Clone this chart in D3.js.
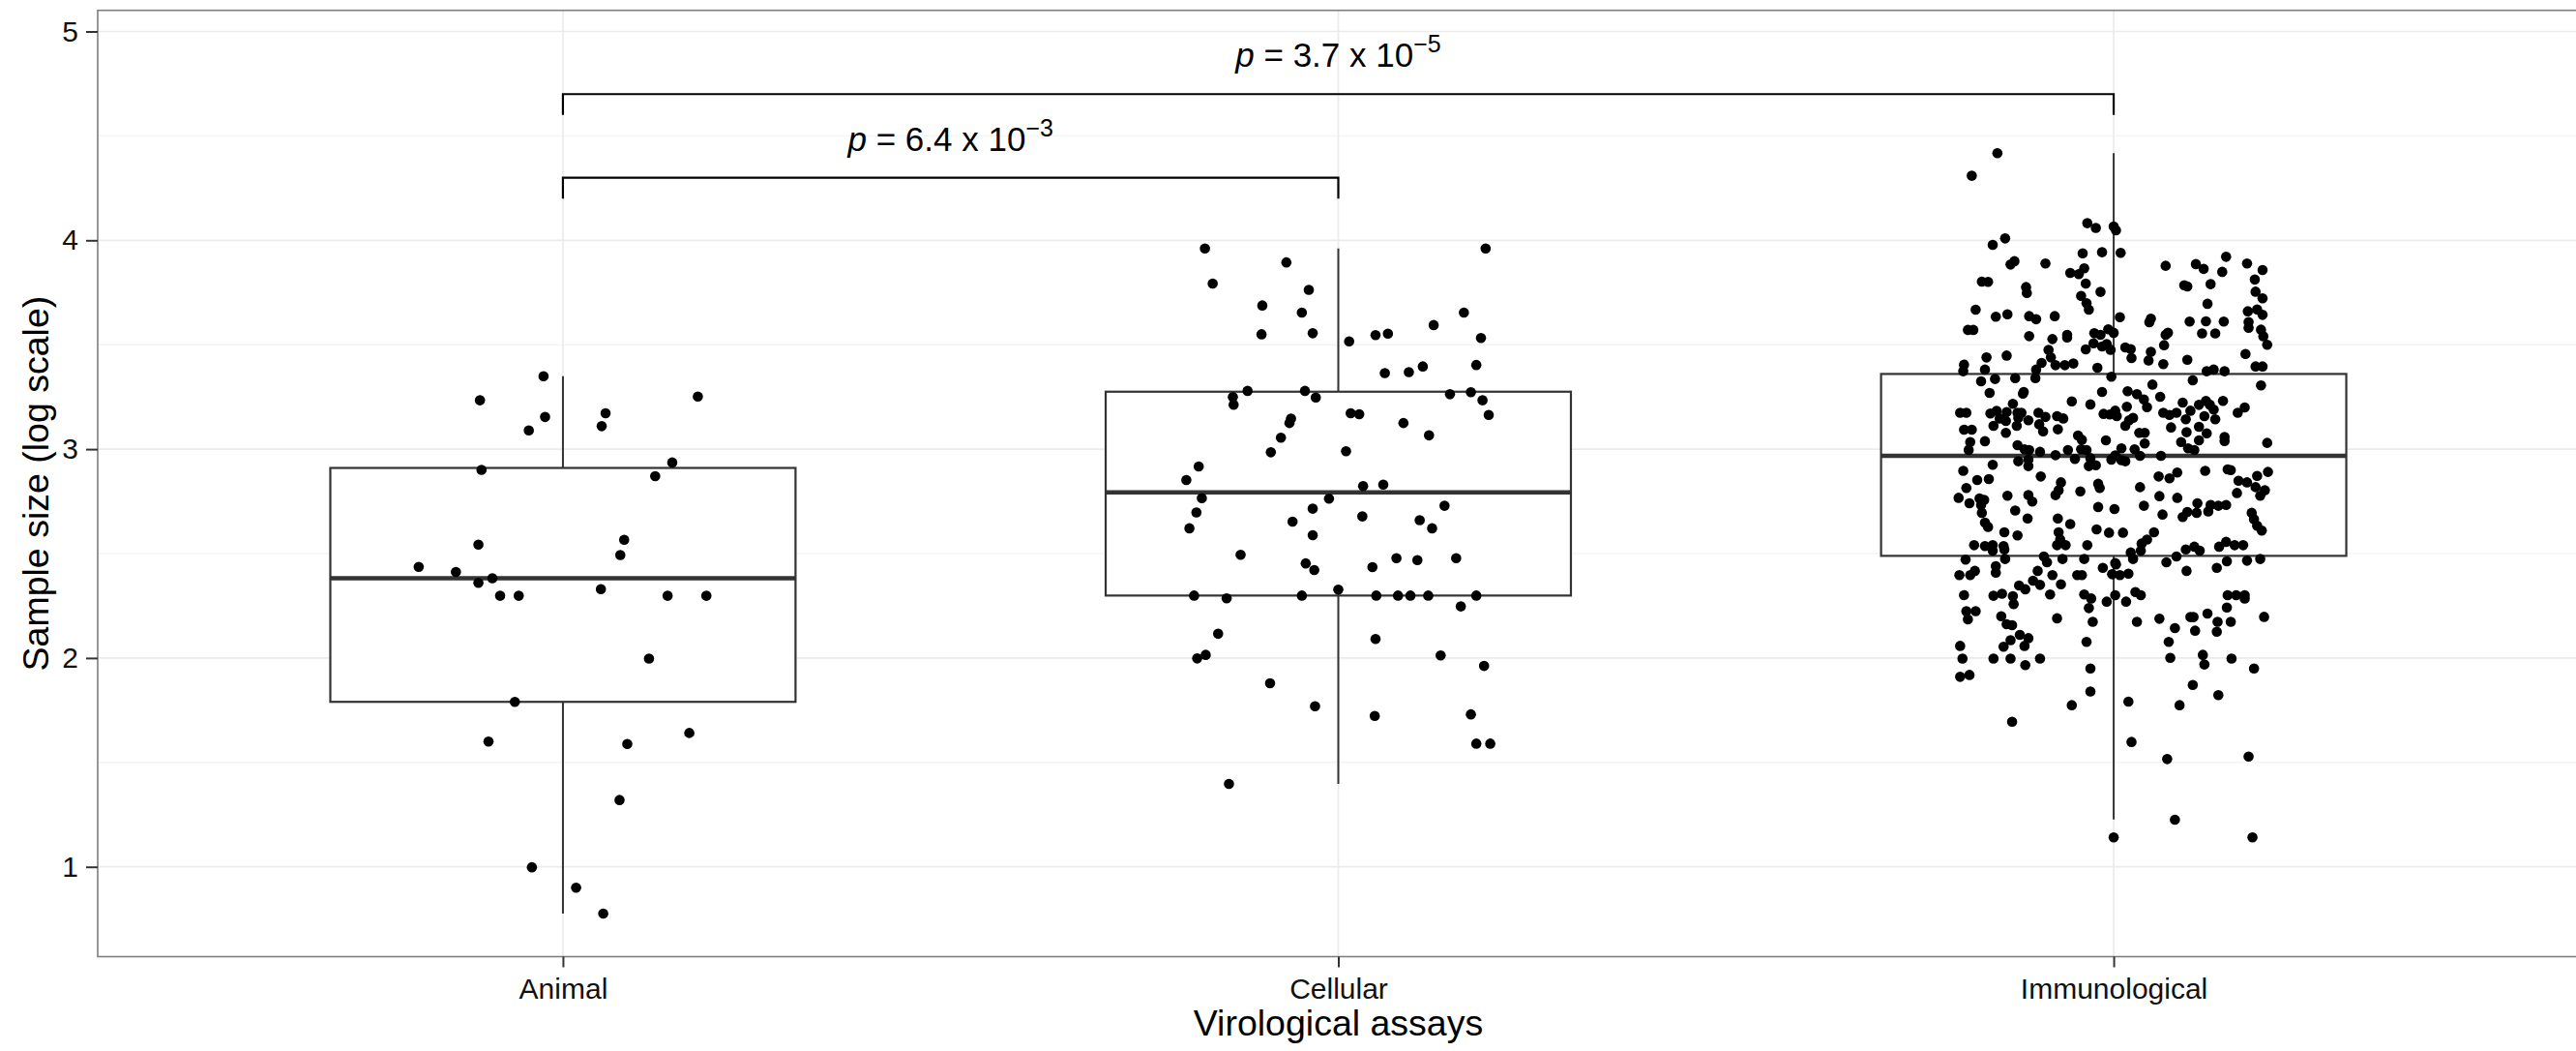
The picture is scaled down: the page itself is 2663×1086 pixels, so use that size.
<!DOCTYPE html>
<html>
<head>
<meta charset="utf-8">
<script src="https://cdn.jsdelivr.net/npm/d3@7"></script>
<style>
  body { margin: 0; background: #fff; }
  text { font-family: "Liberation Sans", Arial, Helvetica, sans-serif; }
</style>
</head>
<body>
<div id="chart"></div>
<script>
var width = 2663,
    height = 1086;

var categories = ["Animal", "Cellular", "Immunological"];
var yTicks = [1, 2, 3, 4, 5];
var yMinor = [1.5, 2.5, 3.5, 4.5];

// boxplot stats (log10 of sample size)
var whiskerLow  = [0.776, 1.397, 1.227];
var boxQ1       = [1.790, 2.299, 2.489];
var boxMedian   = [2.382, 2.793, 2.968];
var boxQ3       = [2.910, 3.275, 3.360];
var whiskerHigh = [3.349, 3.961, 4.417];
var outliers    = [[], [], [1.141]];

// jittered studies: [log10 sample size, horizontal jitter in category units]
var animalPoints = [
  [3.349,-0.025],[3.234,-0.107],[3.252,0.174],[3.154,-0.023],[3.172,0.055],
  [3.090,-0.044],[3.110,0.050],[2.936,0.141],[2.901,-0.105],[2.871,0.119],
  [2.566,0.079],[2.493,0.074],[2.543,-0.109],[2.436,-0.186],[2.412,-0.138],
  [2.382,-0.091],[2.360,-0.109],[2.298,-0.081],[2.298,-0.057],[2.330,0.049],
  [2.298,0.135],[2.298,0.185],[1.997,0.111],[1.790,-0.062],[1.600,-0.096],
  [1.588,0.083],[1.641,0.163],[1.320,0.073],[0.998,-0.040],[0.900,0.017],
  [0.776,0.052]
];

var cellularPoints = [
  [3.961,-0.172],[3.961,0.190],[3.894,-0.067],[3.793,-0.162],[3.763,-0.038],
  [3.688,-0.098],[3.654,-0.047],[3.654,0.162],[3.594,0.123],[3.550,-0.099],
  [3.555,-0.033],[3.516,0.014],[3.546,0.048],[3.553,0.064],[3.532,0.184],
  [3.403,0.178],[3.396,0.109],[3.369,0.091],[3.364,0.060],[3.279,-0.117],
  [3.249,-0.136],[3.213,-0.135],[3.279,-0.043],[3.247,-0.029],[3.263,0.144],
  [3.273,0.171],[3.234,0.186],[3.164,0.194],[3.172,0.016],[3.167,0.027],
  [3.146,-0.061],[3.125,-0.063],[3.125,0.084],[3.055,-0.074],[3.066,0.117],
  [2.985,-0.087],[2.990,0.010],[2.917,-0.180],[2.852,-0.196],[2.823,0.032],
  [2.830,0.058],[2.765,-0.176],[2.763,-0.012],[2.697,-0.183],[2.715,-0.033],
  [2.729,0.137],[2.621,-0.192],[2.653,-0.059],[2.588,-0.033],[2.678,0.031],
  [2.660,0.105],[2.621,0.121],[2.494,-0.126],[2.453,-0.042],[2.421,-0.031],
  [2.435,0.044],[2.478,0.075],[2.469,0.102],[2.478,0.152],[2.299,-0.186],
  [2.286,-0.144],[2.299,-0.047],[2.327,0.000],[2.299,0.049],[2.299,0.077],
  [2.299,0.093],[2.299,0.116],[2.299,0.178],[2.247,0.158],[2.116,-0.155],
  [2.091,0.048],[1.998,-0.182],[2.015,-0.171],[2.012,0.132],[1.962,0.188],
  [1.879,-0.088],[1.769,-0.030],[1.723,0.047],[1.730,0.171],[1.590,0.178],
  [1.590,0.196],[1.397,-0.141]
];

var immunoPoints = [
  [4.417,-0.150],[4.309,-0.183],[4.082,-0.034],[4.059,-0.023],[4.066,0.000],
  [4.048,0.003],[4.009,-0.140],[3.978,-0.156],[3.938,-0.040],[3.943,-0.015],
  [3.940,0.009],[3.900,-0.128],[3.884,-0.133],[3.889,-0.088],[3.878,0.067],
  [3.886,0.106],[3.863,0.116],[3.921,0.145],[3.849,0.140],[3.889,0.172],
  [3.858,0.192],[3.844,-0.056],[3.838,-0.045],[3.866,-0.038],[3.802,-0.170],
  [3.801,-0.162],[3.793,-0.036],[3.776,-0.113],[3.748,-0.112],[3.753,-0.017],
  [3.785,0.091],[3.779,0.095],[3.790,0.125],[3.812,0.182],[3.754,0.183],
  [3.722,0.192],[3.734,-0.042],[3.699,-0.035],[3.668,-0.032],[3.696,0.121],
  [3.668,-0.178],[3.634,-0.152],[3.646,-0.137],[3.637,-0.109],[3.622,-0.100],
  [3.637,-0.076],[3.632,0.008],[3.625,0.048],[3.608,0.046],[3.611,0.098],
  [3.612,0.119],[3.611,0.142],[3.660,0.173],[3.669,0.185],[3.643,0.192],
  [3.609,0.174],[3.581,0.174],[3.571,-0.188],[3.571,-0.181],[3.541,-0.109],
  [3.527,-0.079],[3.547,-0.060],[3.535,-0.060],[3.555,-0.025],[3.547,-0.017],
  [3.574,-0.007],[3.557,0.000],[3.558,0.070],[3.547,0.067],[3.554,0.114],
  [3.554,0.131],[3.572,0.190],[3.540,0.193],[3.500,0.198],[3.507,-0.026],
  [3.492,-0.015],[3.503,-0.009],[3.476,-0.004],[3.487,0.015],[3.479,0.022],
  [3.436,0.023],[3.478,-0.036],[3.475,-0.084],[3.439,-0.081],[3.466,0.048],
  [3.425,0.045],[3.498,0.065],[3.407,0.064],[3.428,0.095],[3.456,0.170],
  [3.439,-0.164],[3.448,-0.138],[3.404,-0.193],[3.373,-0.194],[3.381,-0.166],
  [3.413,-0.093],[3.381,-0.100],[3.402,-0.075],[3.402,-0.063],[3.410,-0.052],
  [3.390,-0.021],[3.373,0.120],[3.381,0.129],[3.373,0.143],[3.396,0.183],
  [3.396,0.192],
  [3.325,-0.171],[3.336,-0.153],[3.340,-0.127],[3.340,-0.101],[3.347,-0.003],
  [3.330,0.102],[3.309,0.050],[3.305,0.190],[3.269,-0.160],[3.274,-0.116],
  [3.266,-0.117],[3.274,-0.015],[3.277,0.018],[3.263,0.030],[3.238,0.039],
  [3.201,0.043],[3.251,0.060],[3.229,-0.054],[3.214,-0.030],[3.217,-0.130],
  [3.174,-0.198],[3.174,-0.190],[3.171,-0.159],[3.183,-0.151],[3.178,-0.138],
  [3.174,-0.124],[3.174,-0.119],[3.174,-0.097],[3.154,-0.088],[3.158,-0.073],
  [3.147,-0.065],[3.147,-0.147],[3.135,-0.139],[3.150,-0.123],[3.138,-0.110],
  [3.169,-0.013],[3.166,-0.005],[3.184,0.002],[3.158,0.004],[3.203,0.017],
  [3.138,0.020],[3.150,0.025],[3.112,0.015],[3.174,0.064],[3.164,0.072],
  [3.174,0.081],[3.223,0.089],[3.143,0.093],[3.184,0.099],[3.212,0.110],
  [3.231,0.119],[3.212,0.124],[3.189,0.129],[3.158,0.117],[3.143,0.131],
  [3.231,0.141],[3.174,0.160],[3.200,0.169],[3.093,-0.193],[3.093,-0.183],
  [3.112,-0.155],[3.078,-0.139],[3.112,-0.125],[3.119,-0.096],[3.085,-0.091],
  [3.095,-0.072],[3.078,0.033],[3.078,0.040],[3.104,0.074],[3.081,0.094],
  [3.107,0.110],[3.076,0.120],[3.034,-0.185],[2.996,-0.187],[3.038,-0.166],
  [3.065,-0.046],[3.045,-0.041],[3.042,-0.010],[3.027,0.040],[3.034,0.087],
  [3.042,0.110],[3.058,0.143],[3.039,0.143],[3.030,0.198],[3.019,-0.124],
  [2.999,-0.115],[2.996,-0.109],[2.987,-0.095],[2.971,-0.075],[2.996,-0.059],
  [2.953,-0.050],[2.999,-0.042],[2.996,-0.035],[2.957,-0.030],[2.919,-0.032],
  [2.923,-0.023],[2.950,-0.003],[2.970,0.002],[3.004,0.010],[2.947,0.010],
  [2.942,0.015],[2.999,0.027],[2.968,0.034],[2.968,0.061],[3.004,0.096],
  [2.996,0.104],[2.942,-0.123],[2.950,-0.110],[2.919,-0.110],[2.925,-0.156],
  [2.896,-0.194],[2.852,-0.176],[2.857,-0.161],[2.814,-0.190],[2.869,-0.094],
  [2.841,-0.068],[2.803,-0.071],[2.780,-0.075],[2.834,-0.020],[2.814,-0.018],
  [2.798,-0.043],[2.818,0.034],[2.869,0.058],[2.860,0.072],[2.888,0.082],
  [2.896,0.118],[2.903,0.147],[2.900,0.151],[2.849,0.161],[2.841,0.172],
  [2.872,0.185],[2.891,0.199],[2.818,0.183],[2.803,0.195],[2.777,0.189],
  [2.790,0.159],[2.767,-0.200],[2.741,-0.186],[2.764,-0.173],[2.757,-0.167],
  [2.733,-0.171],[2.777,-0.137],[2.780,-0.110],[2.749,-0.105],[2.775,0.059],
  [2.767,0.082],[2.729,0.039],[2.723,-0.020],[2.713,0.001],[2.706,-0.127],
  [2.695,-0.170],[2.668,-0.111],[2.648,-0.166],[2.628,-0.162],[2.668,-0.072],
  [2.641,-0.056],[2.687,0.063],[2.675,0.089],[2.699,0.095],[2.695,0.107],
  [2.741,0.108],[2.702,0.122],[2.733,0.125],[2.729,0.135],[2.733,0.145],
  [2.695,0.178],[2.664,0.181],[2.633,0.185],[2.610,0.191],[2.602,-0.141],
  [2.587,-0.124],[2.602,-0.071],[2.567,-0.069],[2.540,-0.073],[2.540,-0.062],
  [2.616,-0.022],[2.600,-0.006],[2.600,0.012],[2.602,0.052],[2.567,0.043],
  [2.548,0.036],[2.514,0.035],[2.540,-0.034],[2.540,-0.180],[2.536,-0.166],
  [2.540,-0.156],[2.514,-0.156],[2.536,-0.142],[2.520,-0.141],[2.505,0.022],
  [2.474,0.025],[2.520,0.093],[2.533,0.104],[2.514,0.111],[2.533,0.136],
  [2.556,0.145],[2.540,0.156],[2.540,0.167],[2.474,-0.140],[2.471,-0.191],
  [2.486,-0.090],[2.458,-0.086],[2.474,-0.066],[2.474,-0.038],[2.455,0.002],
  [2.458,0.068],[2.486,0.081],[2.432,0.133],[2.463,0.146],[2.466,0.172],
  [2.474,0.189],[2.417,0.094],[2.397,-0.199],[2.397,-0.185],[2.417,-0.179],
  [2.440,-0.152],[2.409,-0.152],[2.347,-0.122],[2.329,-0.114],[2.370,-0.104],
  [2.417,-0.098],[2.350,-0.095],[2.397,-0.079],[2.353,-0.068],[2.304,-0.082],
  [2.397,-0.047],[2.397,-0.041],[2.432,-0.014],[2.401,-0.002],[2.448,0.003],
  [2.397,0.008],[2.404,0.019],[2.301,-0.193],[2.298,-0.155],[2.308,-0.144],
  [2.296,-0.130],[2.258,-0.129],[2.304,-0.038],[2.285,-0.029],[2.239,-0.032],
  [2.270,-0.009],[2.301,0.002],[2.270,0.016],[2.316,0.028],[2.301,0.035],
  [2.301,0.147],[2.301,0.158],[2.301,0.169],[2.285,0.169],[2.242,0.146],
  [2.224,-0.190],[2.224,-0.178],
  [2.185,-0.188],[2.200,-0.145],[2.162,-0.138],[2.157,-0.131],[2.190,-0.073],
  [2.173,-0.027],[2.173,0.030],[2.188,0.059],[2.196,0.099],[2.196,0.103],
  [2.213,0.121],[2.197,0.194],[2.143,0.079],[2.131,0.105],[2.173,0.134],
  [2.173,0.151],[2.126,0.133],[2.111,-0.121],[2.095,-0.110],[2.085,-0.133],
  [2.058,-0.115],[2.054,-0.142],[2.058,-0.198],[2.077,-0.035],[2.077,0.071],
  [1.997,-0.195],[1.997,-0.155],[1.997,-0.133],[1.966,-0.114],[1.997,-0.095],
  [1.950,-0.030],[2.001,0.073],[2.015,0.115],[1.969,0.117],[1.997,0.152],
  [1.950,0.181],[1.910,-0.198],[1.919,-0.186],[1.840,-0.030],[1.774,-0.054],
  [1.871,0.102],[1.822,0.135],[1.791,0.019],[1.774,0.085],[1.695,-0.131],
  [1.598,0.023],[1.516,0.069],[1.528,0.174],[1.226,0.079],[1.141,0.179]
];

var groups = [animalPoints, cellularPoints, immunoPoints];

// pairwise tests drawn as brackets
var bracketFrom = [0, 0];
var bracketTo = [1, 2];
var bracketY = [4.3, 4.7];
var pMantissa = ["6.4", "3.7"];
var pExponent = ["\u22123", "\u22125"];

var panel = {left: 101, right: 2666, top: 10.7, bottom: 988.5};

var svg = d3.select("#chart").append("svg")
    .attr("width", width)
    .attr("height", height);

var x = d3.scalePoint()
    .domain(categories)
    .range([panel.left, panel.right])
    .padding(0.6);

var y = d3.scaleLinear()
    .domain([0.570, 5.101])
    .range([panel.bottom, panel.top]);

var step = x.step();

// grid
svg.selectAll("line.minor").data(yMinor)
  .enter().append("line")
    .attr("class", "minor")
    .attr("x1", panel.left).attr("x2", panel.right)
    .attr("y1", function(d) { return y(d); })
    .attr("y2", function(d) { return y(d); })
    .attr("stroke", "#f4f4f4").attr("stroke-width", 1.4);

svg.selectAll("line.major").data(yTicks)
  .enter().append("line")
    .attr("class", "major")
    .attr("x1", panel.left).attr("x2", panel.right)
    .attr("y1", function(d) { return y(d); })
    .attr("y2", function(d) { return y(d); })
    .attr("stroke", "#ebebeb").attr("stroke-width", 1.7);

svg.selectAll("line.vmajor").data(categories)
  .enter().append("line")
    .attr("class", "vmajor")
    .attr("x1", function(d) { return x(d); })
    .attr("x2", function(d) { return x(d); })
    .attr("y1", panel.top).attr("y2", panel.bottom)
    .attr("stroke", "#ebebeb").attr("stroke-width", 1.7);

// boxplots
var boxes = svg.selectAll("g.box").data(categories)
  .enter().append("g")
    .attr("class", "box");

boxes.append("line")
    .attr("x1", function(d) { return x(d); })
    .attr("x2", function(d) { return x(d); })
    .attr("y1", function(d, i) { return y(whiskerHigh[i]); })
    .attr("y2", function(d, i) { return y(whiskerLow[i]); })
    .attr("stroke", "#333").attr("stroke-width", 2);

boxes.append("rect")
    .attr("x", function(d) { return x(d) - 0.3 * step; })
    .attr("width", 0.6 * step)
    .attr("y", function(d, i) { return y(boxQ3[i]); })
    .attr("height", function(d, i) { return y(boxQ1[i]) - y(boxQ3[i]); })
    .attr("fill", "#fff")
    .attr("stroke", "#333").attr("stroke-width", 2.2);

boxes.append("line")
    .attr("x1", function(d) { return x(d) - 0.3 * step; })
    .attr("x2", function(d) { return x(d) + 0.3 * step; })
    .attr("y1", function(d, i) { return y(boxMedian[i]); })
    .attr("y2", function(d, i) { return y(boxMedian[i]); })
    .attr("stroke", "#333").attr("stroke-width", 4.5);

boxes.each(function(d, i) {
  d3.select(this).selectAll("circle").data(outliers[i])
    .enter().append("circle")
      .attr("cx", x(d))
      .attr("cy", function(v) { return y(v); })
      .attr("r", 5.3)
      .attr("fill", "#000");
});

// jittered points
groups.forEach(function(pts, i) {
  svg.append("g").selectAll("circle").data(pts)
    .enter().append("circle")
      .attr("cx", function(d) { return x(categories[i]) + d[1] * step; })
      .attr("cy", function(d) { return y(d[0]); })
      .attr("r", 5.3)
      .attr("fill", "#000");
});

// significance brackets
bracketY.forEach(function(b, i) {
  var x1 = x(categories[bracketFrom[i]]),
      x2 = x(categories[bracketTo[i]]);
  svg.append("path")
      .attr("d", "M" + x1 + "," + y(b - 0.1) + "V" + y(b) + "H" + x2 + "V" + y(b - 0.1))
      .attr("fill", "none")
      .attr("stroke", "#000")
      .attr("stroke-width", 2.2);

  var t = svg.append("text")
      .attr("x", (x1 + x2) / 2)
      .attr("y", y(b) - 28)
      .attr("text-anchor", "middle")
      .attr("font-size", 35)
      .attr("fill", "#000");
  t.append("tspan").attr("font-style", "italic").text("p");
  t.append("tspan").text(" = " + pMantissa[i] + " x 10");
  t.append("tspan").attr("dy", -15).attr("font-size", 25).text(pExponent[i]);
});

// panel border
svg.append("rect")
    .attr("x", panel.left).attr("y", panel.top)
    .attr("width", panel.right - panel.left)
    .attr("height", panel.bottom - panel.top)
    .attr("fill", "none")
    .attr("stroke", "#7f7f7f")
    .attr("stroke-width", 1.6);

// axes
var yAxis = svg.append("g")
    .attr("transform", "translate(" + panel.left + ",0)")
    .call(d3.axisLeft(y).tickValues(yTicks).tickSize(12).tickPadding(8).tickFormat(d3.format("d")));

var xAxis = svg.append("g")
    .attr("transform", "translate(0," + panel.bottom + ")")
    .call(d3.axisBottom(x).tickSize(11).tickPadding(11));

[yAxis, xAxis].forEach(function(ax) {
  ax.select(".domain").remove();
  ax.selectAll(".tick line").attr("stroke", "#333").attr("stroke-width", 2);
  ax.selectAll(".tick text")
      .attr("fill", "#111")
      .attr("font-size", 30)
      .attr("font-family", "'Liberation Sans', Arial, Helvetica, sans-serif");
});

// titles
svg.append("text")
    .attr("x", (panel.left + panel.right) / 2)
    .attr("y", 1070)
    .attr("text-anchor", "middle")
    .attr("font-size", 37.5)
    .attr("fill", "#000")
    .text("Virological assays");

svg.append("text")
    .attr("transform", "translate(50," + (panel.top + panel.bottom) / 2 + ") rotate(-90)")
    .attr("text-anchor", "middle")
    .attr("font-size", 37.5)
    .attr("fill", "#000")
    .text("Sample size (log scale)");
</script>
</body>
</html>
